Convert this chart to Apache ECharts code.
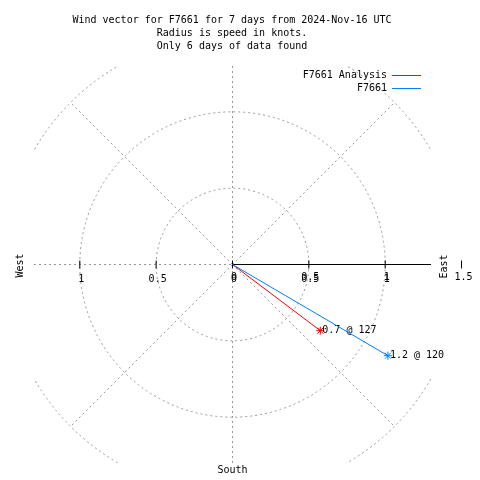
<!DOCTYPE html>
<html><head><meta charset="utf-8">
<script src="https://cdn.jsdelivr.net/npm/echarts@6/dist/echarts.min.js"></script>
<style>html,body{margin:0;padding:0;background:#fff}#c{width:480px;height:480px}</style>
</head><body><div id="c"></div>
<script>
// ---- data ----
const titleLines = [
  'Wind vector for F7661 for 7 days from 2024-Nov-16 UTC',
  'Radius is speed in knots.',
  'Only 6 days of data found'
];
const seriesNames = ['F7661 Analysis', 'F7661'];
const speeds = [0.72, 1.18];          // knots
const directions = [127, 120.4];      // degrees clockwise from north
const ringRadii = [0.5, 1, 1.5];      // knots
const spokeAngles = [45, 135, 225, 315];
const spokeLength = 1.5;
const axisExtent = 1.3;
const westTicks = [1, 0.5];
const eastTicks = [0, 0.5, 1, 1.5];
const compassNames = ['East', 'West', 'South'];

// ---- styles ----
const FONT = '10px "DejaVu Sans Mono"';
const GRAY = '#999999';
const COLORS = ['#ff0000', '#0080ff'];
const DASH = [2, 3];

function toXY(s, d) {
  const r = d * Math.PI / 180;
  return [s * Math.sin(r), s * Math.cos(r)];
}
function txt(x, y, text, extra) {
  return Object.assign({type: 'text', x: x, y: y,
    style: {text: text, font: FONT, fill: '#000', align: 'center', verticalAlign: 'middle'}}, extra || {});
}

const chart = echarts.init(document.getElementById('c'), null, {renderer: 'canvas'});

const series = [];
// rings (clipped to plot square)
series.push({
  type: 'custom', silent: true, clip: true,
  data: ringRadii.map(r => [r, 0]),
  renderItem: function (params, api) {
    const c = api.coord([0, 0]);
    const r = api.size([api.value(0), 0])[0];
    return {type: 'circle', shape: {cx: c[0], cy: c[1], r: r},
      style: {fill: 'none', stroke: GRAY, lineWidth: 1, lineDash: DASH}};
  }
});
// dashed spokes, vertical line, west half of horizontal line
const segs = spokeAngles.map(a => [0, 0].concat(toXY(spokeLength, a)));
segs.push([0, -axisExtent, 0, axisExtent]);
segs.push([-axisExtent, 0, 0, 0]);
series.push({
  type: 'custom', silent: true,
  data: segs,
  renderItem: function (params, api) {
    const p1 = api.coord([api.value(0), api.value(1)]);
    const p2 = api.coord([api.value(2), api.value(3)]);
    return {type: 'line', shape: {x1: p1[0], y1: p1[1], x2: p2[0], y2: p2[1]},
      style: {stroke: GRAY, lineWidth: 1, lineDash: DASH}};
  }
});
// axes: east solid line, ticks, labels, compass names
series.push({
  type: 'custom', silent: true,
  data: [[0, 0]],
  renderItem: function (params, api) {
    const ch = [];
    const o = api.coord([0, 0]);
    const e = api.coord([axisExtent, 0]);
    ch.push({type: 'line', shape: {x1: o[0], y1: o[1], x2: e[0], y2: e[1]},
      style: {stroke: '#000', lineWidth: 1}});
    eastTicks.forEach(t => {
      const p = api.coord([t, 0]);
      ch.push({type: 'line', shape: {x1: p[0], y1: p[1] - 4, x2: p[0], y2: p[1] + 4},
        style: {stroke: '#000', lineWidth: 1}});
      const lab = String(t);
      if (t === eastTicks[eastTicks.length - 1]) {
        ch.push(txt(p[0] + 2, p[1] + 13, lab));
      } else {
        ch.push(txt(p[0] + 1.5, p[1] + 12.5, lab));
        ch.push(txt(p[0] + 1.5, p[1] + 14.5, lab));
      }
    });
    westTicks.forEach(t => {
      const p = api.coord([-t, 0]);
      ch.push({type: 'line', shape: {x1: p[0], y1: p[1] - 4, x2: p[0], y2: p[1] + 4},
        style: {stroke: '#000', lineWidth: 1}});
      ch.push(txt(p[0] + 1.5, p[1] + 15, String(t)));
    });
    const w = api.coord([-axisExtent, 0]);
    const s = api.coord([0, -axisExtent]);
    ch.push(txt(e[0] + 13, e[1] + 2, compassNames[0], {rotation: Math.PI / 2}));
    ch.push(txt(w[0] - 14, w[1] + 1, compassNames[1], {rotation: Math.PI / 2}));
    ch.push(txt(s[0], s[1] + 7, compassNames[2]));
    return {type: 'group', children: ch};
  }
});
// vectors
seriesNames.forEach((name, i) => {
  series.push({
    type: 'custom', name: name, silent: true,
    itemStyle: {color: COLORS[i]},
    data: [[speeds[i], directions[i]]],
    renderItem: function (params, api) {
      const sp = api.value(0), dir = api.value(1);
      const o = api.coord([0, 0]);
      const p = api.coord(toXY(sp, dir));
      const col = COLORS[i];
      const ch = [{type: 'line', shape: {x1: o[0], y1: o[1], x2: p[0], y2: p[1]},
        style: {stroke: col, lineWidth: 1}}];
      const k = 4, d = 3;
      [[k, 0], [0, k], [d, d], [d, -d]].forEach(v => {
        ch.push({type: 'line', shape: {x1: p[0] - v[0], y1: p[1] - v[1], x2: p[0] + v[0], y2: p[1] + v[1]},
          style: {stroke: col, lineWidth: 1}});
      });
      ch.push({type: 'text', x: p[0] + 2, y: p[1],
        style: {text: sp.toFixed(1) + ' @ ' + Math.round(dir), font: FONT, fill: '#000',
          align: 'left', verticalAlign: 'middle'}});
      return {type: 'group', children: ch};
    }
  });
});

chart.setOption({
  animation: false,
  backgroundColor: '#fff',
  grid: {left: 34, top: 66, width: 397, height: 397, containLabel: false},
  xAxis: {type: 'value', min: -axisExtent, max: axisExtent, show: false},
  yAxis: {type: 'value', min: -axisExtent, max: axisExtent, show: false},
  legend: {
    data: seriesNames, orient: 'vertical', align: 'right',
    right: 59, top: 69, padding: 0,
    itemWidth: 29, itemHeight: 1, itemGap: 0, icon: 'rect', selectedMode: false,
    textStyle: {fontFamily: 'DejaVu Sans Mono', fontSize: 10, color: '#000', lineHeight: 13}
  },
  graphic: [{
    type: 'text', x: 232, y: 13.5,
    style: {text: titleLines.join('\n'), font: FONT, fill: '#000', align: 'center',
      verticalAlign: 'top', lineHeight: 13}
  }],
  series: series
});
</script></body></html>
